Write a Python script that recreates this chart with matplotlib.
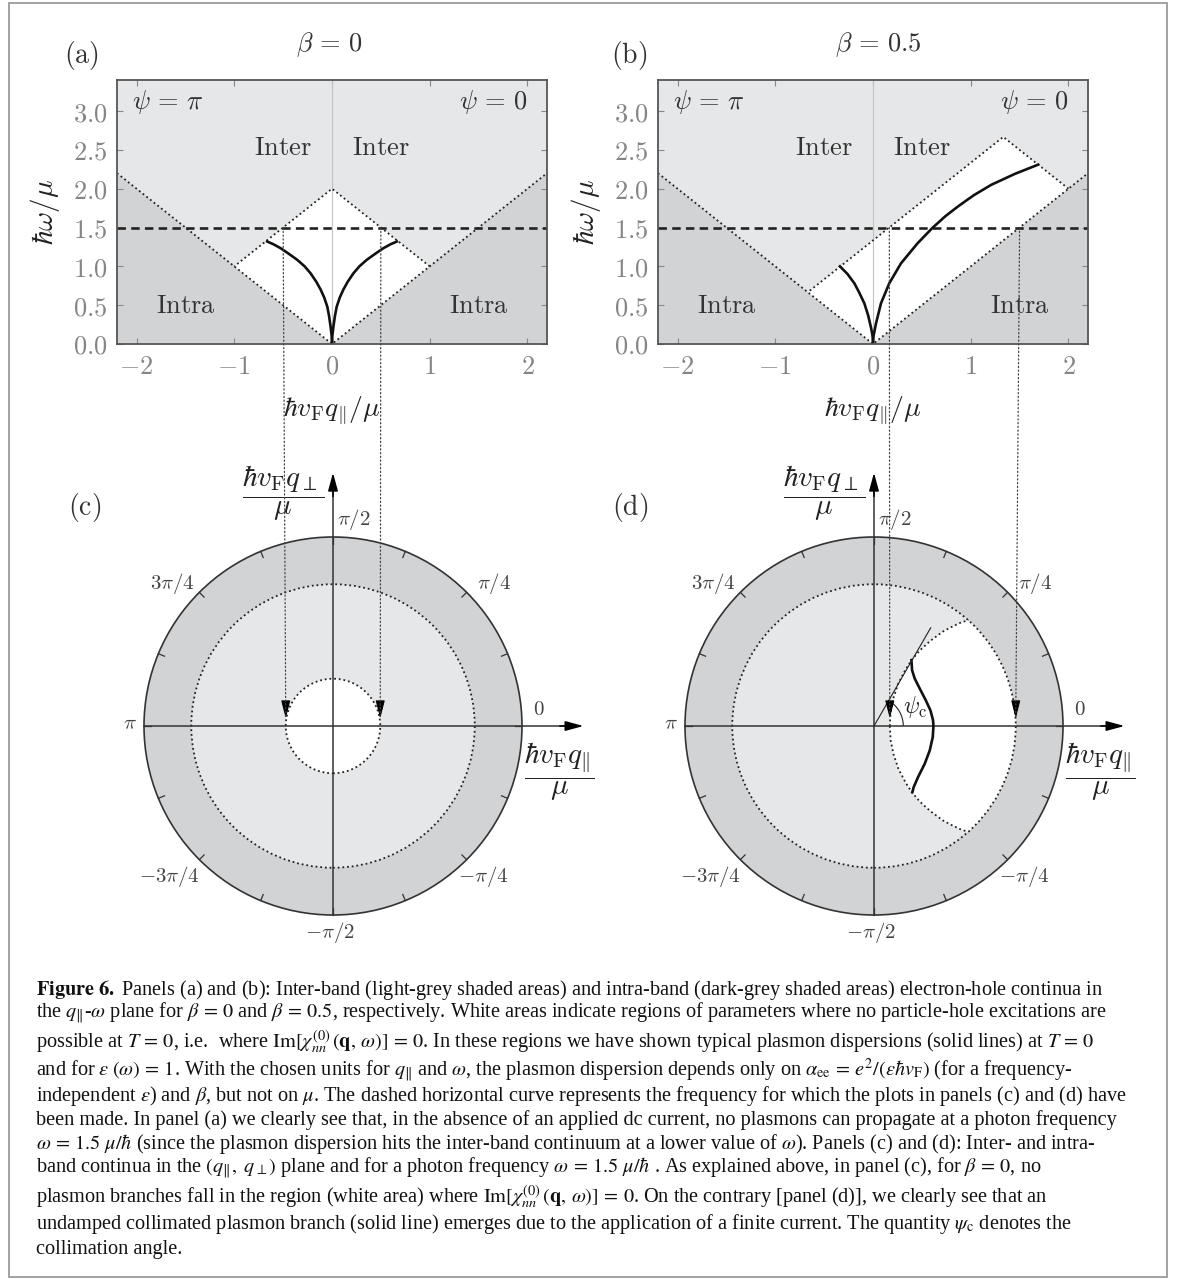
import numpy as np
import matplotlib
matplotlib.use("Agg")
import matplotlib.pyplot as plt
from matplotlib.patches import Polygon, Circle, Rectangle, Arc, ConnectionPatch

plt.rcParams['mathtext.fontset'] = 'cm'
plt.rcParams['font.family'] = 'DejaVu Serif'

#%% data
beta_vals = [0.0, 0.5]
omega_cut = 1.5   # dashed line = photon frequency of panels (c), (d)

# w = |q| edge of the intra-band continuum
vline_q = [-2.2, 0.0, 2.2]
vline_w = [2.2, 0.0, 2.2]

# white areas (no particle-hole continuum) in the q-w plane
white_a_q = [0.0, 1.0, 0.0, -1.0]
white_a_w = [0.0, 1.0, 2.0, 1.0]
white_b_q = [0.0, 2.0, 1.333, -0.667]
white_b_w = [0.0, 2.0, 2.667, 0.667]

# plasmon branches, beta = 0 (right branch, left one is its mirror)
plas_a_q = [0.0, 0.003, 0.014, 0.03, 0.048, 0.08, 0.116, 0.16, 0.219, 0.28, 0.356, 0.44, 0.527, 0.60, 0.663]
plas_a_w = [0.0, 0.10, 0.22, 0.36, 0.48, 0.60, 0.70, 0.80, 0.91, 1.00, 1.084, 1.16, 1.235, 1.285, 1.32]
# beta = 0.5
plas_b_q = [0.0, 0.005, 0.031, 0.082, 0.167, 0.287, 0.458, 0.612, 0.74, 0.868, 1.03, 1.21, 1.45, 1.69]
plas_b_w = [0.0, 0.10, 0.267, 0.525, 0.783, 1.04, 1.30, 1.50, 1.645, 1.77, 1.915, 2.05, 2.19, 2.31]
plas_bl_q = [0.0, -0.004, -0.02, -0.05, -0.089, -0.14, -0.19, -0.26, -0.338]
plas_bl_w = [0.0, 0.10, 0.21, 0.37, 0.525, 0.66, 0.78, 0.90, 1.0]

# where the dashed line cuts the white areas
cut_a = [-0.5, 0.5]
cut_b = [0.167, 1.5]

# (q_par, q_perp) plane at w = 1.5
r_outer = 2.0
r_inter = 1.5
r_white_c = 0.5
env_d_x = [0.167, 0.176, 0.207, 0.257, 0.335, 0.40, 0.485, 0.595, 0.73, 0.825, 0.93, 1.0]
env_d_y = [0.0, 0.15, 0.30, 0.45, 0.60, 0.70, 0.80, 0.90, 1.00, 1.05, 1.10, 1.118]
plas_d_x = [0.396, 0.403, 0.431, 0.484, 0.548, 0.597, 0.625, 0.629, 0.622, 0.590, 0.537, 0.466, 0.420, 0.406]
plas_d_y = [0.696, 0.590, 0.502, 0.396, 0.272, 0.166, 0.060, 0.0, -0.117, -0.258, -0.399, -0.541, -0.647, -0.700]
psi_c_deg = 60.0

angle_labels = [r'$0$', r'$\pi/4$', r'$\pi/2$', r'$3\pi/4$', r'$\pi$',
                r'$-3\pi/4$', r'$-\pi/2$', r'$-\pi/4$']

caption_lines = [
    r'$\mathbf{Figure\ 6.}$ Panels (a) and (b): Inter-band (light-grey shaded areas) and intra-band (dark-grey shaded areas) electron-hole continua in',
    r'the $q_{\Vert}$-$\omega$ plane for $\beta\,=\,0$ and $\beta\,=\,0.5$, respectively. White areas indicate regions of parameters where no particle-hole excitations are',
    r'possible at $T\,=\,0$, i.e.  where ${\rm Im}[\chi^{(0)}_{nn}\,(\mathbf{q},\,\omega)]\,=\,0$. In these regions we have shown typical plasmon dispersions (solid lines) at $T\,=\,0$',
    r'and for $\epsilon\;(\omega)\,=\,1$. With the chosen units for $q_{\Vert}$ and $\omega$, the plasmon dispersion depends only on $\alpha_{\rm ee}\,=\,e^2/(\epsilon\hbar v_{\rm F})$ (for a frequency-',
    r'independent $\epsilon$) and $\beta$, but not on $\mu$. The dashed horizontal curve represents the frequency for which the plots in panels (c) and (d) have',
    r'been made. In panel (a) we clearly see that, in the absence of an applied dc current, no plasmons can propagate at a photon frequency',
    r'$\omega\,=\,1.5\ \mu/\hbar$ (since the plasmon dispersion hits the inter-band continuum at a lower value of $\omega$). Panels (c) and (d): Inter- and intra-',
    r'band continua in the $(q_{\Vert},\ q_{\perp})$ plane and for a photon frequency $\omega\,=\,1.5\ \mu/\hbar$ . As explained above, in panel (c), for $\beta\,=\,0$, no',
    r'plasmon branches fall in the region (white area) where ${\rm Im}[\chi^{(0)}_{nn}\,(\mathbf{q},\,\omega)]\,=\,0$. On the contrary [panel (d)], we clearly see that an',
    r'undamped collimated plasmon branch (solid line) emerges due to the application of a finite current. The quantity $\psi_{\rm c}$ denotes the',
    r'collimation angle.',
]

#%% layout
W, H = 1182, 1279
light = '#e6e7e8'
dark = '#d2d3d5'
ink = '#222222'
dot = (0, (1, 1.6))

fig = plt.figure(figsize=(W / 100, H / 100), dpi=100)


def px_box(left, top, right, bottom):
    return [left / W, 1 - bottom / H, (right - left) / W, (bottom - top) / H]


fig.add_artist(Rectangle((9 / W, 1 - 1277 / H), 1158 / W, 1274 / H, transform=fig.transFigure,
                         fill=False, ec='#9a9a9a', lw=1.3))


def qw_panel(ax, wq, ww, plasmons):
    ax.set_xlim(-2.2, 2.2)
    ax.set_ylim(0, 3.4)
    ax.set_facecolor(light)
    # dark intra-band region below w = |q|
    lo = ax.get_ylim()[0]
    ax.add_patch(Polygon(list(zip([vline_q[0]] + vline_q + [vline_q[-1]],
                                  [lo] + vline_w + [lo])), closed=True, fc=dark, ec='none'))
    ax.add_patch(Polygon(list(zip(wq, ww)), closed=True, fc='white', ec='none'))
    ax.axvline(0, color='#c2c2c2', lw=0.8)
    ax.plot(vline_q, vline_w, color=ink, ls=dot, lw=1.3)
    ax.plot(wq[1:], ww[1:], color=ink, ls=dot, lw=1.3)
    ax.axhline(omega_cut, color=ink, lw=1.9, ls=(0, (3.2, 2)))
    for q, w in plasmons:
        ax.plot(q, w, color='#111', lw=1.9, solid_joinstyle='round')
    ax.text(-2.05, 3.12, r'$\psi\,=\,\pi$', fontsize=19, ha='left', va='center', color='#333')
    ax.text(2.0, 3.12, r'$\psi\,=\,0$', fontsize=19, ha='right', va='center', color='#333')
    for x, y, s in [(-0.5, 2.53, 'Inter'), (0.5, 2.53, 'Inter'), (-1.5, 0.5, 'Intra'), (1.5, 0.5, 'Intra')]:
        ax.text(x, y, r'$\mathrm{%s}$' % s, fontsize=19, ha='center', va='center', color='#333')
    xt = [-2, -1, 0, 1, 2]
    yt = [0.0, 0.5, 1.0, 1.5, 2.0, 2.5, 3.0]
    ax.set_xticks(xt, [r'$%d$' % v for v in xt])
    ax.set_yticks(yt, [r'$%.1f$' % v for v in yt])
    ax.tick_params(direction='in', length=4, width=0.8, color='#888', labelcolor='#858585',
                   labelsize=19, top=True, right=True, pad=7)
    for sp in ax.spines.values():
        sp.set_color('#555')
        sp.set_linewidth(1.3)
    ax.set_ylabel(r'$\hbar\omega/\mu$', fontsize=21, color='#222')
    ax.yaxis.set_label_coords(-0.127, 0.5)
    ax.set_xlabel(r'$\hbar v_{\mathrm{F}} q_{\Vert}/\mu$', fontsize=20, color='#222')
    ax.xaxis.set_label_coords(0.5, -0.19)


ax_a = fig.add_axes(px_box(117, 80, 547, 344))
qw_panel(ax_a, white_a_q, white_a_w,
         [(plas_a_q, plas_a_w), ([-v for v in plas_a_q], plas_a_w)])
ax_b = fig.add_axes(px_box(658, 80, 1088, 344))
qw_panel(ax_b, white_b_q, white_b_w, [(plas_b_q, plas_b_w), (plas_bl_q, plas_bl_w)])

fig.text(81 / W, 1 - 55 / H, r'$\mathrm{(a)}$', fontsize=20, ha='center', va='center', color='#333')
fig.text(629 / W, 1 - 55 / H, r'$\mathrm{(b)}$', fontsize=20, ha='center', va='center', color='#333')
fig.text(329 / W, 1 - 45 / H, r'$\beta\,=\,%g$' % beta_vals[0], fontsize=19, ha='center', va='center', color='#333')
fig.text(878 / W, 1 - 45 / H, r'$\beta\,=\,%g$' % beta_vals[1], fontsize=19, ha='center', va='center', color='#333')

# polar-like panels
s = 94.5
label_off = [(2.18, 0.17), (1.70, 1.51), (0.22, 2.18), (-1.70, 1.51), (-2.15, 0.02),
             (-1.73, -1.59), (-0.03, -2.18), (1.59, -1.59)]


def plane_panel(cx, cy):
    ax = fig.add_axes(px_box(cx - 2.9 * s, cy - 2.9 * s, cx + 2.9 * s, cy + 2.5 * s))
    ax.set_xlim(-2.9, 2.9)
    ax.set_ylim(-2.5, 2.9)
    ax.set_axis_off()
    ax.add_patch(Circle((0, 0), r_outer, fc=dark, ec='#333', lw=1.2))
    inter = Circle((0, 0), r_inter, fc=light, ec='none')
    ax.add_patch(inter)
    for k in range(16):
        t = np.radians(22.5 * k)
        ax.plot([r_outer * np.cos(t), (r_outer - 0.07) * np.cos(t)],
                [r_outer * np.sin(t), (r_outer - 0.07) * np.sin(t)], color='#333', lw=0.9)
    for (x, y), lab in zip(label_off, angle_labels):
        ax.text(x, y, lab, fontsize=15, ha='center', va='center', color='#444', clip_on=False)
    return ax, inter


def finish_plane(ax):
    ax.add_patch(Circle((0, 0), r_inter, fill=False, ec=ink, ls=dot, lw=1.3))
    ax.plot([-r_outer, 2.5], [0, 0], color='#333', lw=1.1)
    ax.plot([0, 0], [-r_outer, 2.5], color='#333', lw=1.1)
    arr = dict(arrowstyle='-|>,head_length=1.1,head_width=0.3', color='k', lw=1.1,
               shrinkA=0, shrinkB=0)
    ax.annotate('', xy=(2.65, 0), xytext=(2.4, 0), arrowprops=arr)
    ax.annotate('', xy=(0, 2.68), xytext=(0, 2.43), arrowprops=arr)
    ax.text(-0.53, 2.46, r'$\dfrac{\hbar v_{\mathrm{F}} q_{\perp}}{\mu}$', fontsize=21,
            ha='center', va='center', color='#222', clip_on=False)
    ax.text(2.40, -0.48, r'$\dfrac{\hbar v_{\mathrm{F}} q_{\Vert}}{\mu}$', fontsize=21,
            ha='center', va='center', color='#222', clip_on=False)


ax_c, _ = plane_panel(333, 726)
ax_c.add_patch(Circle((0, 0), r_white_c, fc='white', ec=ink, ls=dot, lw=1.3))
finish_plane(ax_c)

ax_d, inter_d = plane_panel(874, 726)
poly_x = env_d_x + [1.7, 1.7] + env_d_x[::-1]
poly_y = env_d_y + [env_d_y[-1], -env_d_y[-1]] + [-v for v in env_d_y[::-1]]
wpoly = Polygon(list(zip(poly_x, poly_y)), closed=True, fc='white', ec='none')
ax_d.add_patch(wpoly)
wpoly.set_clip_path(inter_d)
ax_d.plot(env_d_x, env_d_y, color=ink, ls=dot, lw=1.3)
ax_d.plot(env_d_x, [-v for v in env_d_y], color=ink, ls=dot, lw=1.3)
finish_plane(ax_d)
ax_d.plot(plas_d_x, plas_d_y, color='#111', lw=1.9, solid_joinstyle='round')
t = np.radians(psi_c_deg)
ax_d.plot([0, 1.2 * np.cos(t)], [0, 1.2 * np.sin(t)], color='#222', lw=0.8)
ax_d.add_patch(Arc((0, 0), 0.62, 0.62, theta1=0, theta2=psi_c_deg, color='#222', lw=0.8))
ax_d.text(0.43, 0.20, r'$\psi_{\mathrm{c}}$', fontsize=17, ha='center', va='center', color='#222')

fig.text(85 / W, 1 - 507 / H, r'$\mathrm{(c)}$', fontsize=20, ha='center', va='center', color='#333')
fig.text(630 / W, 1 - 507 / H, r'$\mathrm{(d)}$', fontsize=20, ha='center', va='center', color='#333')

# dotted guides from the q-w panels down to the plane panels
arr_small = dict(arrowstyle='-|>,head_length=1.1,head_width=0.28', color='k', lw=0.8,
                 shrinkA=0, shrinkB=0)
for top_ax, low_ax, cuts in [(ax_a, ax_c, cut_a), (ax_b, ax_d, cut_b)]:
    for q in cuts:
        con = ConnectionPatch(xyA=(q, omega_cut), coordsA='data', axesA=top_ax,
                              xyB=(q, 0.08), coordsB='data', axesB=low_ax,
                              color='#444', lw=0.9, ls=(0, (1, 2)))
        fig.add_artist(con)
        low_ax.annotate('', xy=(q, 0.08), xytext=(q, 0.26), arrowprops=arr_small)

# caption
baselines = [995, 1018, 1048, 1076, 1101, 1125, 1149, 1173, 1203, 1229, 1254]
for yb, line in zip(baselines, caption_lines):
    fig.text(36 / W, 1 - yb / H, line, fontsize=14.6, family='Liberation Serif',
             math_fontfamily='stix', ha='left', va='baseline', color='#111')

fig.savefig('out.png', dpi=100)
